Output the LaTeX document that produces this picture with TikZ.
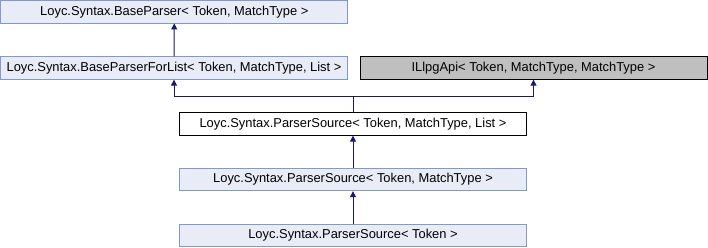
\documentclass[tikz,border=0pt]{standalone}
\usepackage{fontspec}
\setmainfont{Liberation Sans}
\usetikzlibrary{arrows.meta}
\definecolor{boxfill}{HTML}{E8ECF6}
\definecolor{boxline}{HTML}{8498CC}
\definecolor{gbfill}{HTML}{BFBFBF}
\definecolor{edge}{HTML}{191970}
\tikzset{
  cls/.style={draw=boxline, fill=boxfill, line width=0.8pt, minimum width=347pt,
    minimum height=22.5pt, inner sep=0pt, font=\fontsize{12.9}{15}\selectfont},
  cur/.style={cls, draw=black, fill=white},
  ext/.style={cls, draw=black, fill=gbfill},
  inh/.style={edge, line width=1pt, -{Triangle[length=6pt,width=6pt]}}
}
\begin{document}
\begin{tikzpicture}[x=1pt, y=-1pt]
  \useasboundingbox (0,0) rectangle (708,248);
  \node[cls] (bp) at (174.3,11.8) {Loyc.Syntax.BaseParser< Token, MatchType >};
  \node[cls] (bpl) at (174,68) {Loyc.Syntax.BaseParserForList< Token, MatchType, List >};
  \node[ext] (api) at (533.5,68) {ILlpgApi< Token, MatchType, MatchType >};
  \node[cur] (ps3) at (353,124) {Loyc.Syntax.ParserSource< Token, MatchType, List >};
  \node[cls] (ps2) at (353,179.5) {Loyc.Syntax.ParserSource< Token, MatchType >};
  \node[cls] (ps1) at (353,235.5) {Loyc.Syntax.ParserSource< Token >};
  \coordinate (j) at (353,97);
  \draw[inh] (bpl) -- (bp);
  \draw[edge, line width=1pt] (ps3) -- (j);
  \draw[inh] (j) -| (bpl);
  \draw[inh] (j) -| (api);
  \draw[inh] (ps2) -- (ps3);
  \draw[inh] (ps1) -- (ps2);
\end{tikzpicture}
\end{document}
